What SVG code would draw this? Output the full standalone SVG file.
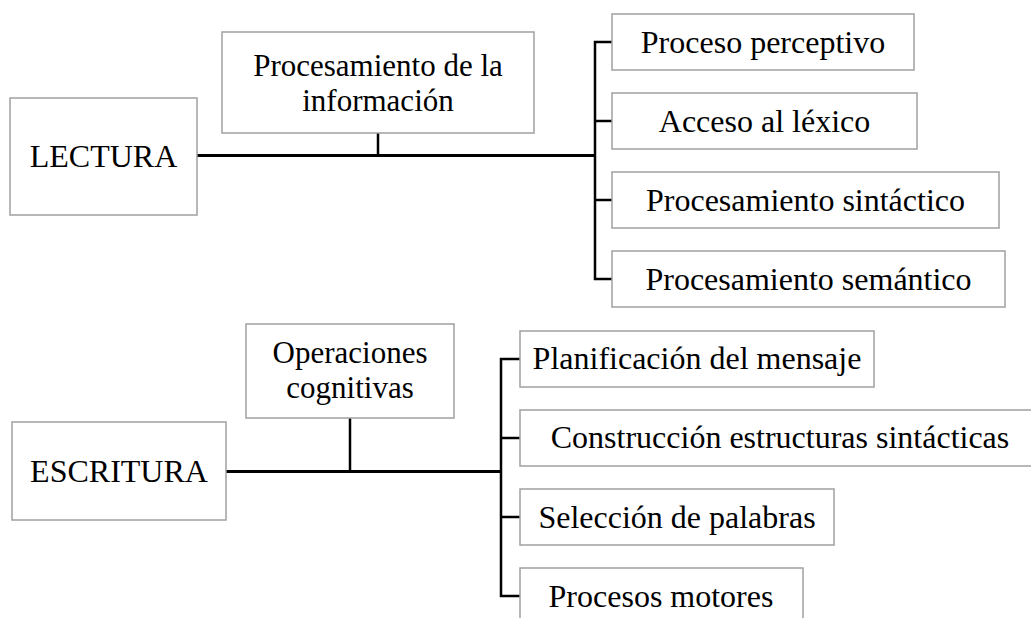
<svg xmlns="http://www.w3.org/2000/svg" width="1031" height="618" viewBox="0 0 1031 618">
<style>
.box{fill:#fff;stroke:#a0a0a0;stroke-width:1.5}
.t{font-family:"Liberation Serif","Times New Roman",serif;font-size:32px;fill:#000;text-anchor:middle}
.t2{font-size:31px}
.c{stroke:#000;fill:none;stroke-width:2.5}
.m{stroke:#000;fill:none;stroke-width:3}
</style>
<rect width="1031" height="618" fill="#fff"/>
<g id="connectors">
<line class="m" x1="197" y1="155.5" x2="595" y2="155.5"/>
<line class="c" x1="378" y1="133" x2="378" y2="155"/>
<polyline class="c" points="612,42 595,42 595,279 612,279"/>
<line class="c" x1="595" y1="121" x2="612" y2="121"/>
<line class="c" x1="595" y1="200" x2="612" y2="200"/>
<line class="m" x1="226" y1="471.5" x2="501" y2="471.5"/>
<line class="c" x1="350" y1="418" x2="350" y2="471"/>
<polyline class="c" points="520,359 501,359 501,596 520,596"/>
<line class="c" x1="501" y1="438" x2="520" y2="438"/>
<line class="c" x1="501" y1="517" x2="520" y2="517"/>
</g>
<g id="lectura"><rect class="box" x="10" y="98" width="187" height="117"/><text class="t" x="103.5" y="167">LECTURA</text></g>
<g id="procesamiento-info"><rect class="box" x="222" y="32" width="312" height="101"/><text class="t t2" x="378" y="75.5">Procesamiento de la</text><text class="t t2" x="378" y="110.5">información</text></g>
<g id="proceso-perceptivo"><rect class="box" x="612" y="14" width="302" height="56"/><text class="t" x="763" y="53">Proceso perceptivo</text></g>
<g id="acceso-lexico"><rect class="box" x="612" y="93" width="305" height="56"/><text class="t" x="764.5" y="132">Acceso al léxico</text></g>
<g id="proc-sintactico"><rect class="box" x="612" y="172" width="387" height="56"/><text class="t" x="805.5" y="211">Procesamiento sintáctico</text></g>
<g id="proc-semantico"><rect class="box" x="612" y="251" width="393" height="56"/><text class="t" x="808.5" y="290">Procesamiento semántico</text></g>
<g id="escritura"><rect class="box" x="12" y="422" width="214" height="98"/><text class="t" x="119" y="482">ESCRITURA</text></g>
<g id="operaciones"><rect class="box" x="246" y="324" width="208" height="94"/><text class="t t2" x="350" y="363">Operaciones</text><text class="t t2" x="350" y="398">cognitivas</text></g>
<g id="planificacion"><rect class="box" x="520" y="331" width="354" height="56"/><text class="t" x="697" y="369">Planificación del mensaje</text></g>
<g id="construccion"><rect class="box" x="520" y="410" width="520" height="56"/><text class="t" x="780" y="448">Construcción estructuras sintácticas</text></g>
<g id="seleccion"><rect class="box" x="520" y="489" width="314" height="56"/><text class="t" x="677" y="528">Selección de palabras</text></g>
<g id="procesos-motores"><rect class="box" x="520" y="568" width="283" height="56"/><text class="t" x="661" y="607">Procesos motores</text></g>
</svg>
